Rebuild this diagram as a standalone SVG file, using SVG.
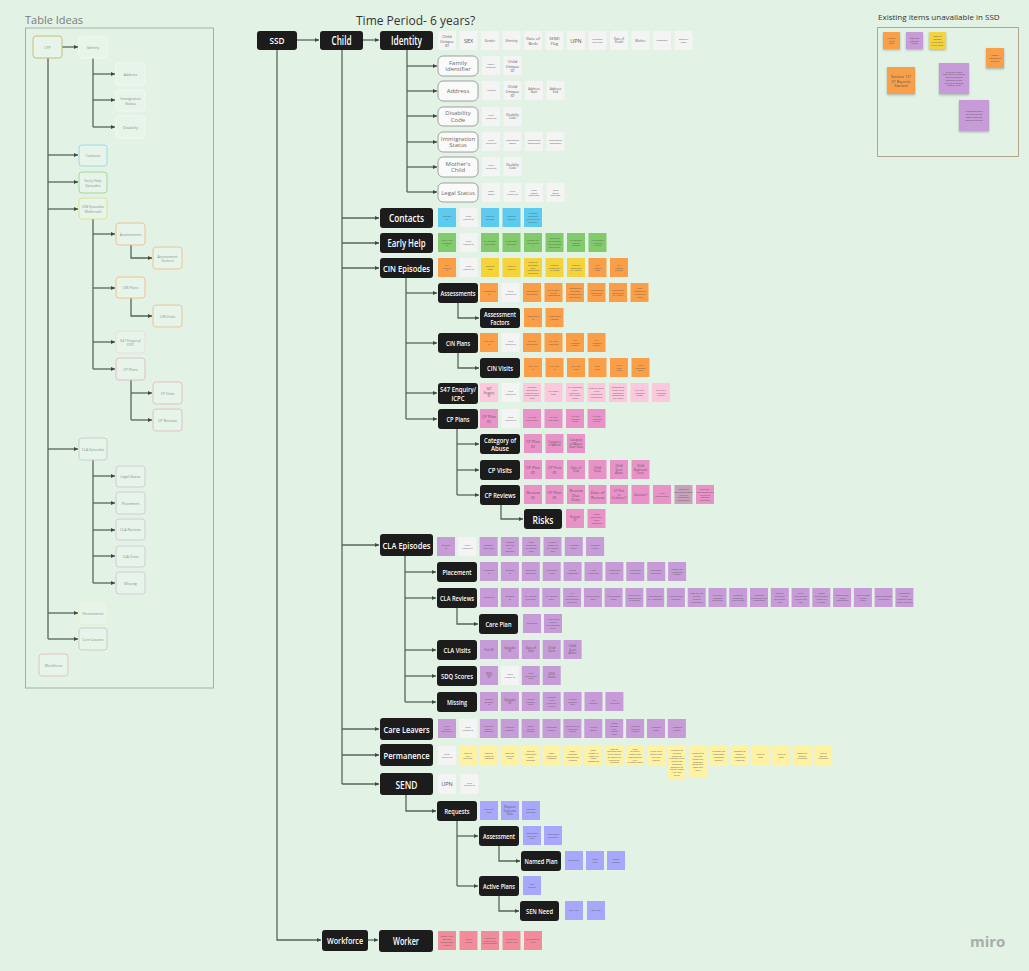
<svg xmlns="http://www.w3.org/2000/svg" width="1029" height="971" viewBox="0 0 1029 971">
<defs>
<marker id="ah" viewBox="0 0 6 6" refX="6" refY="3" markerWidth="4.5" markerHeight="4.5" markerUnits="userSpaceOnUse" orient="auto"><path d="M0,0 L6,3 L0,6 z" fill="#3e4a40"/></marker>
<filter id="sh" x="-20%" y="-20%" width="140%" height="150%"><feDropShadow dx="0" dy="1.2" stdDeviation="0.8" flood-color="#000" flood-opacity="0.25"/></filter>
</defs>
<style>
text{font-family:"Open Sans","Noto Sans",sans-serif}
.k rect{fill:#1c1c1c}
.k text{fill:#fff;font-weight:600;text-anchor:middle;dominant-baseline:central}
.sn rect{fill:#fafafa;stroke:#8c8c8c;stroke-width:0.8}
.sn text{fill:#6a6a6a;font-size:6px;text-anchor:middle;dominant-baseline:central}
.f text{fill:#5a5a5a;text-anchor:middle;dominant-baseline:central}
.a{font-size:2.3px}.b{font-size:3px}.c{font-size:4px}.d{font-size:5.5px}
.w{fill:#f3f4f3}.bl{fill:#5ccbef}.gr{fill:#82cb6c}.or{fill:#fa9f48}.ye{fill:#f5d33a}
.lp{fill:#fbc8dd}.pk{fill:#e892c8}.gp{fill:#c6a3ba}.pu{fill:#c79bd7}.ly{fill:#fff3a3}
.sb{fill:#a7a8fb}.rd{fill:#f38c9a}
.e{fill:none;stroke:#56665a;stroke-width:1.3}
.ea{fill:none;stroke:#56665a;stroke-width:1.3;marker-end:url(#ah)}
.lp-n rect{fill:#e6f4e9;stroke-width:0.9}
.lp-n text{fill:#8b938b;font-size:3.6px;text-anchor:middle;dominant-baseline:central}
</style>
<rect width="1029" height="971" fill="#e2f2e5"/>

<!-- ===== Table ideas panel ===== -->
<text x="25" y="24" font-size="11" fill="#7a7a7a">Table Ideas</text>
<rect x="25.5" y="28" width="188" height="660" fill="none" stroke="#a3b2a5" stroke-width="1"/>
<g id="ideas-connectors">
<path class="ea" d="M62,47 H78"/>
<path class="e" d="M48,58 V639"/>
<path class="ea" d="M48,155 H78"/><path class="ea" d="M48,182 H78"/><path class="ea" d="M48,209 H78"/>
<path class="ea" d="M48,449 H78"/><path class="ea" d="M48,613 H78"/><path class="ea" d="M48,639 H78"/>
<path class="e" d="M93,58 V127"/>
<path class="ea" d="M93,74 H115"/><path class="ea" d="M93,100 H115"/><path class="ea" d="M93,127 H115"/>
<path class="e" d="M93,219 V369"/>
<path class="ea" d="M93,234 H115"/><path class="ea" d="M93,288 H115"/><path class="ea" d="M93,342 H115"/><path class="ea" d="M93,369 H115"/>
<path class="ea" d="M131,245 V258 H152"/>
<path class="ea" d="M131,298 V316 H152"/>
<path class="e" d="M131,380 V420"/>
<path class="ea" d="M131,393 H152"/><path class="ea" d="M131,420 H152"/>
<path class="e" d="M93,460 V583"/>
<path class="ea" d="M93,476 H115"/><path class="ea" d="M93,503 H115"/><path class="ea" d="M93,530 H115"/><path class="ea" d="M93,556 H115"/><path class="ea" d="M93,583 H115"/>
</g>
<g id="idea-cyp" class="lp-n"><rect x="33" y="36" width="29" height="22" rx="3" stroke="#c8b577"/><text x="47.5" y="47">CYP</text></g>
<g id="idea-identity" class="lp-n"><rect x="79" y="37" width="28" height="21" rx="3" stroke="#f4f8f4"/><text x="93" y="47.5">Identity</text></g>
<g id="idea-address" class="lp-n"><rect x="116" y="63" width="29" height="22" rx="3" stroke="#f4f8f4"/><text x="130.5" y="74">Address</text></g>
<g id="idea-immigration" class="lp-n"><rect x="116" y="90" width="29" height="21" rx="3" stroke="#f4f8f4"/><text x="130.5" y="100.5"><tspan x="130.5" dy="-2.2">Immigration</tspan><tspan x="130.5" dy="4.4">Status</tspan></text></g>
<g id="idea-disability" class="lp-n"><rect x="116" y="116" width="29" height="22" rx="3" stroke="#f4f8f4"/><text x="130.5" y="127">Disability</text></g>
<g id="idea-contacts" class="lp-n"><rect x="79" y="145" width="28" height="21" rx="3" stroke="#95d6ea"/><text x="93" y="155.5">Contacts</text></g>
<g id="idea-earlyhelp" class="lp-n"><rect x="79" y="172" width="28" height="21" rx="3" stroke="#9fd58a"/><text x="93" y="182.5"><tspan x="93" dy="-2.2">Early Help</tspan><tspan x="93" dy="4.4">Episodes</tspan></text></g>
<g id="idea-cin" class="lp-n"><rect x="79" y="198" width="28" height="21" rx="3" stroke="#e3dc8a"/><text x="93" y="208.5"><tspan x="93" dy="-2.2">CIN Episodes</tspan><tspan x="93" dy="4.4">(Referrals)</tspan></text></g>
<g id="idea-assessments" class="lp-n"><rect x="116" y="223" width="29" height="22" rx="3" stroke="#efbd8a"/><text x="130.5" y="234">Assessments</text></g>
<g id="idea-assessfactors" class="lp-n"><rect x="153" y="247" width="29" height="22" rx="3" stroke="#efbd8a"/><text x="167.5" y="258"><tspan x="167.5" dy="-2.2">Assessment</tspan><tspan x="167.5" dy="4.4">Factors</tspan></text></g>
<g id="idea-cinplans" class="lp-n"><rect x="116" y="277" width="29" height="21" rx="3" stroke="#efbd8a"/><text x="130.5" y="287.5">CIN Plans</text></g>
<g id="idea-cinvisits" class="lp-n"><rect x="153" y="305" width="29" height="22" rx="3" stroke="#efbd8a"/><text x="167.5" y="316">CIN Visits</text></g>
<g id="idea-s47" class="lp-n"><rect x="116" y="331" width="29" height="22" rx="3" stroke="#efd7df"/><text x="130.5" y="342"><tspan x="130.5" dy="-2.2">S47 Enquiry/</tspan><tspan x="130.5" dy="4.4">ICPC</tspan></text></g>
<g id="idea-cpplans" class="lp-n"><rect x="116" y="358" width="29" height="22" rx="3" stroke="#e2b9c3"/><text x="130.5" y="369">CP Plans</text></g>
<g id="idea-cpvisits" class="lp-n"><rect x="153" y="382" width="29" height="22" rx="3" stroke="#e2b9c3"/><text x="167.5" y="393">CP Visits</text></g>
<g id="idea-cpreviews" class="lp-n"><rect x="153" y="409" width="29" height="22" rx="3" stroke="#e2b9c3"/><text x="167.5" y="420">CP Reviews</text></g>
<g id="idea-cla" class="lp-n"><rect x="79" y="438" width="28" height="22" rx="3" stroke="#c7c9cc"/><text x="93" y="449">CLA Episodes</text></g>
<g id="idea-legal" class="lp-n"><rect x="116" y="466" width="29" height="21" rx="3" stroke="#cfc6d6"/><text x="130.5" y="476.5">Legal Status</text></g>
<g id="idea-placement" class="lp-n"><rect x="116" y="492" width="29" height="22" rx="3" stroke="#cfc6d6"/><text x="130.5" y="503">Placement</text></g>
<g id="idea-clareviews" class="lp-n"><rect x="116" y="519" width="29" height="21" rx="3" stroke="#cfc6d6"/><text x="130.5" y="529.5">CLA Reviews</text></g>
<g id="idea-clavisits" class="lp-n"><rect x="116" y="546" width="29" height="21" rx="3" stroke="#cfc6d6"/><text x="130.5" y="556.5">CLA Visits</text></g>
<g id="idea-missing" class="lp-n"><rect x="116" y="572" width="29" height="22" rx="3" stroke="#cfc6d6"/><text x="130.5" y="583">Missing</text></g>
<g id="idea-permanence" class="lp-n"><rect x="79" y="602" width="28" height="22" rx="3" stroke="#eef0c8"/><text x="93" y="613">Permanence</text></g>
<g id="idea-careleavers" class="lp-n"><rect x="79" y="628" width="28" height="22" rx="3" stroke="#c5c9cc"/><text x="93" y="639">Care Leavers</text></g>
<g id="idea-workforce" class="lp-n"><rect x="39" y="654" width="29" height="22" rx="3" stroke="#e2bcbc"/><text x="53.5" y="665">Workforce</text></g>

<!-- ===== Title ===== -->
<text x="356" y="25" font-size="12" fill="#333">Time Period- 6 years?</text>

<!-- ===== Main tree connectors ===== -->
<g id="connectors">
<path class="ea" d="M297,40 H319"/>
<path class="ea" d="M363,40 H379"/>
<path class="ea" d="M277,50 V940 H321"/>
<path class="ea" d="M368,940 H378"/>
<path class="e" d="M342,50 V784"/>
<path class="ea" d="M342,218 H379"/><path class="ea" d="M342,243 H379"/><path class="ea" d="M342,268 H379"/>
<path class="ea" d="M342,545 H379"/><path class="ea" d="M342,729 H379"/><path class="ea" d="M342,755 H379"/><path class="ea" d="M342,784 H379"/>
<path class="e" d="M407,50 V192"/>
<path class="ea" d="M407,66 H437"/><path class="ea" d="M407,91 H437"/><path class="ea" d="M407,116 H437"/>
<path class="ea" d="M407,142 H437"/><path class="ea" d="M407,167 H437"/><path class="ea" d="M407,192 H437"/>
<path class="e" d="M406,278 V419"/>
<path class="ea" d="M406,293 H437"/><path class="ea" d="M406,343 H437"/><path class="ea" d="M406,393 H437"/><path class="ea" d="M406,419 H437"/>
<path class="ea" d="M458,303 V318 H479"/>
<path class="ea" d="M458,353 V368 H479"/>
<path class="e" d="M457,429 V495"/>
<path class="ea" d="M457,444 H479"/><path class="ea" d="M457,470 H479"/><path class="ea" d="M457,495 H479"/>
<path class="ea" d="M501,505 V519 H523"/>
<path class="e" d="M405,556 V702"/>
<path class="ea" d="M405,572 H436"/><path class="ea" d="M405,598 H436"/><path class="ea" d="M405,650 H436"/><path class="ea" d="M405,676 H436"/><path class="ea" d="M405,702 H436"/>
<path class="ea" d="M457,608 V624 H478"/>
<path class="ea" d="M406,795 V811 H436"/>
<path class="e" d="M457,821 V886"/>
<path class="ea" d="M457,836 H478"/><path class="ea" d="M457,886 H478"/>
<path class="ea" d="M499,846 V861 H520"/>
<path class="ea" d="M499,896 V911 H519"/>
</g>

<!-- ===== Main nodes ===== -->
<g id="ssd" class="k"><rect x="257" y="31" width="40" height="19" rx="3"/><text x="277" y="40.5" font-size="9.5" textLength="15" lengthAdjust="spacingAndGlyphs">SSD</text></g>
<g id="child" class="k"><rect x="320" y="31" width="43" height="19" rx="3"/><text x="341.5" y="40.5" font-size="12" textLength="20" lengthAdjust="spacingAndGlyphs">Child</text></g>
<g id="identity" class="k"><rect x="380" y="31" width="53" height="19" rx="3"/><text x="406.5" y="40.5" font-size="12" textLength="31" lengthAdjust="spacingAndGlyphs">Identity</text></g>

<g id="family-identifier" class="sn"><rect x="438" y="56" width="40" height="20" rx="5"/><text x="458" y="66"><tspan x="458" dy="-3.3">Family</tspan><tspan x="458" dy="6.6">Identifier</tspan></text></g>
<g id="address" class="sn"><rect x="438" y="81" width="40" height="20" rx="5"/><text x="458" y="91">Address</text></g>
<g id="disability-code" class="sn"><rect x="438" y="107" width="40" height="19" rx="5"/><text x="458" y="116.5"><tspan x="458" dy="-3.3">Disability</tspan><tspan x="458" dy="6.6">Code</tspan></text></g>
<g id="immigration-status" class="sn"><rect x="438" y="132" width="40" height="20" rx="5"/><text x="458" y="142"><tspan x="458" dy="-3.3">Immigration</tspan><tspan x="458" dy="6.6">Status</tspan></text></g>
<g id="mothers-child" class="sn"><rect x="438" y="157" width="40" height="20" rx="5"/><text x="458" y="167"><tspan x="458" dy="-3.3">Mother's</tspan><tspan x="458" dy="6.6">Child</tspan></text></g>
<g id="legal-status" class="sn"><rect x="438" y="183" width="40" height="19" rx="5"/><text x="458" y="192.5">Legal Status</text></g>

<g id="contacts" class="k"><rect x="380" y="208" width="53" height="20" rx="3"/><text x="406.5" y="218" font-size="10" textLength="35" lengthAdjust="spacingAndGlyphs">Contacts</text></g>
<g id="early-help" class="k"><rect x="380" y="233" width="53" height="20" rx="3"/><text x="406.5" y="243" font-size="10" textLength="38" lengthAdjust="spacingAndGlyphs">Early Help</text></g>
<g id="cin-episodes" class="k"><rect x="380" y="258" width="53" height="20" rx="3"/><text x="406.5" y="268" font-size="9" textLength="47" lengthAdjust="spacingAndGlyphs">CIN Episodes</text></g>
<g id="assessments" class="k"><rect x="438" y="283" width="40" height="20" rx="3"/><text x="458" y="293" font-size="7" textLength="35" lengthAdjust="spacingAndGlyphs">Assessments</text></g>
<g id="assessment-factors" class="k"><rect x="480" y="308" width="40" height="20" rx="3"/><text x="500" y="314" font-size="7.5" textLength="32" lengthAdjust="spacingAndGlyphs">Assessment</text><text x="500" y="322" font-size="7.5" textLength="19" lengthAdjust="spacingAndGlyphs">Factors</text></g>
<g id="cin-plans" class="k"><rect x="438" y="333" width="40" height="20" rx="3"/><text x="458" y="343" font-size="7.5" textLength="24" lengthAdjust="spacingAndGlyphs">CIN Plans</text></g>
<g id="cin-visits" class="k"><rect x="480" y="358" width="40" height="20" rx="3"/><text x="500" y="368" font-size="7.5" textLength="26" lengthAdjust="spacingAndGlyphs">CIN Visits</text></g>
<g id="s47" class="k"><rect x="438" y="383" width="40" height="21" rx="3"/><text x="458" y="389.5" font-size="7" textLength="36" lengthAdjust="spacingAndGlyphs">S47 Enquiry/</text><text x="458" y="397.5" font-size="7.5" textLength="13" lengthAdjust="spacingAndGlyphs">ICPC</text></g>
<g id="cp-plans" class="k"><rect x="438" y="409" width="40" height="20" rx="3"/><text x="458" y="419" font-size="7.5" textLength="23" lengthAdjust="spacingAndGlyphs">CP Plans</text></g>
<g id="category-of-abuse" class="k"><rect x="480" y="434" width="40" height="20" rx="3"/><text x="500" y="440" font-size="7.5" textLength="32" lengthAdjust="spacingAndGlyphs">Category of</text><text x="500" y="448" font-size="7.5" textLength="18" lengthAdjust="spacingAndGlyphs">Abuse</text></g>
<g id="cp-visits" class="k"><rect x="480" y="460" width="40" height="20" rx="3"/><text x="500" y="470" font-size="7.5" textLength="24" lengthAdjust="spacingAndGlyphs">CP Visits</text></g>
<g id="cp-reviews" class="k"><rect x="480" y="485" width="40" height="20" rx="3"/><text x="500" y="495" font-size="7.5" textLength="31" lengthAdjust="spacingAndGlyphs">CP Reviews</text></g>
<g id="risks" class="k"><rect x="524" y="509" width="38" height="20" rx="3"/><text x="543" y="519" font-size="11" textLength="21" lengthAdjust="spacingAndGlyphs">Risks</text></g>
<g id="cla-episodes" class="k"><rect x="380" y="534" width="53" height="22" rx="3"/><text x="406.5" y="545" font-size="9" textLength="48" lengthAdjust="spacingAndGlyphs">CLA Episodes</text></g>
<g id="placement" class="k"><rect x="437" y="562" width="40" height="20" rx="3"/><text x="457" y="572" font-size="7.5" textLength="29" lengthAdjust="spacingAndGlyphs">Placement</text></g>
<g id="cla-reviews" class="k"><rect x="437" y="588" width="40" height="20" rx="3"/><text x="457" y="598" font-size="7" textLength="34" lengthAdjust="spacingAndGlyphs">CLA Reviews</text></g>
<g id="care-plan" class="k"><rect x="479" y="614" width="39" height="20" rx="3"/><text x="498.5" y="624" font-size="7.5" textLength="26" lengthAdjust="spacingAndGlyphs">Care Plan</text></g>
<g id="cla-visits" class="k"><rect x="437" y="640" width="40" height="20" rx="3"/><text x="457" y="650" font-size="7.5" textLength="27" lengthAdjust="spacingAndGlyphs">CLA Visits</text></g>
<g id="sdq-scores" class="k"><rect x="437" y="666" width="40" height="20" rx="3"/><text x="457" y="676" font-size="7.5" textLength="32" lengthAdjust="spacingAndGlyphs">SDQ Scores</text></g>
<g id="missing" class="k"><rect x="437" y="692" width="40" height="20" rx="3"/><text x="457" y="702" font-size="7.5" textLength="20" lengthAdjust="spacingAndGlyphs">Missing</text></g>
<g id="care-leavers" class="k"><rect x="380" y="718" width="53" height="22" rx="3"/><text x="406.5" y="729" font-size="9" textLength="46" lengthAdjust="spacingAndGlyphs">Care Leavers</text></g>
<g id="permanence" class="k"><rect x="380" y="744" width="53" height="22" rx="3"/><text x="406.5" y="755" font-size="9" textLength="46" lengthAdjust="spacingAndGlyphs">Permanence</text></g>
<g id="send" class="k"><rect x="380" y="773" width="53" height="22" rx="3"/><text x="406.5" y="784" font-size="11" textLength="22" lengthAdjust="spacingAndGlyphs">SEND</text></g>
<g id="requests" class="k"><rect x="437" y="801" width="40" height="20" rx="3"/><text x="457" y="811" font-size="7.5" textLength="25" lengthAdjust="spacingAndGlyphs">Requests</text></g>
<g id="send-assessment" class="k"><rect x="479" y="826" width="40" height="20" rx="3"/><text x="499" y="836" font-size="7.5" textLength="32" lengthAdjust="spacingAndGlyphs">Assessment</text></g>
<g id="named-plan" class="k"><rect x="521" y="851" width="40" height="20" rx="3"/><text x="541" y="861" font-size="7.5" textLength="33" lengthAdjust="spacingAndGlyphs">Named Plan</text></g>
<g id="active-plans" class="k"><rect x="479" y="876" width="40" height="20" rx="3"/><text x="499" y="886" font-size="7.5" textLength="32" lengthAdjust="spacingAndGlyphs">Active Plans</text></g>
<g id="sen-need" class="k"><rect x="520" y="901" width="39" height="20" rx="3"/><text x="539.5" y="911" font-size="7.5" textLength="27" lengthAdjust="spacingAndGlyphs">SEN Need</text></g>
<g id="workforce" class="k"><rect x="322" y="930" width="46" height="21" rx="3"/><text x="345" y="940.5" font-size="8" textLength="36" lengthAdjust="spacingAndGlyphs">Workforce</text></g>
<g id="worker" class="k"><rect x="379" y="930" width="54" height="22" rx="3"/><text x="406" y="941" font-size="10" textLength="26" lengthAdjust="spacingAndGlyphs">Worker</text></g>

<!-- ===== Field notes ===== -->
<g id="fields-identity" class="f">
<g transform="translate(438,31)"><rect class="w" width="18" height="19"/><text class="c" x="9" y="9.5"><tspan x="9" dy="-4.6">Child</tspan><tspan x="9" dy="4.6">Unique</tspan><tspan x="9" dy="4.6">ID</tspan></text></g>
<g transform="translate(459.5,31)"><rect class="w" width="18" height="19"/><text class="d" x="9" y="9.5">SEX</text></g>
<g transform="translate(481,31)"><rect class="w" width="18" height="19"/><text class="b" x="9" y="9.5">Gender</text></g>
<g transform="translate(502.5,31)"><rect class="w" width="18" height="19"/><text class="b" x="9" y="9.5">Ethnicity</text></g>
<g transform="translate(524,31)"><rect class="w" width="18" height="19"/><text class="c" x="9" y="9.5"><tspan x="9" dy="-2.3">Date of</tspan><tspan x="9" dy="4.6">Birth</tspan></text></g>
<g transform="translate(545.5,31)"><rect class="w" width="18" height="19"/><text class="c" x="9" y="9.5"><tspan x="9" dy="-2.3">SEND</tspan><tspan x="9" dy="4.6">Flag</tspan></text></g>
<g transform="translate(567,31)"><rect class="w" width="18" height="19"/><text class="d" x="9" y="9.5">UPN</text></g>
<g transform="translate(588.5,31)"><rect class="w" width="18" height="19"/><text class="a" x="9" y="9.5"><tspan x="9" dy="-1.35">Expected</tspan><tspan x="9" dy="2.7">birth date</tspan></text></g>
<g transform="translate(610,31)"><rect class="w" width="18" height="19"/><text class="b" x="9" y="9.5"><tspan x="9" dy="-1.75">Date of</tspan><tspan x="9" dy="3.5">Death</tspan></text></g>
<g transform="translate(631.5,31)"><rect class="w" width="18" height="19"/><text class="b" x="9" y="9.5">Mother</text></g>
<g transform="translate(653,31)"><rect class="w" width="18" height="19"/><text class="a" x="9" y="9.5">Nationality</text></g>
<g transform="translate(674.5,31)"><rect class="w" width="18" height="19"/><text class="a" x="9" y="9.5"><tspan x="9" dy="-1.35">Disability</tspan><tspan x="9" dy="2.7">Code</tspan></text></g>
</g>
<g id="fields-identity-subtables" class="f">
<g transform="translate(482,56)"><rect class="w" width="18" height="19"/><text class="a" x="9" y="9.5"><tspan x="9" dy="-1.35">Family</tspan><tspan x="9" dy="2.7">Identifier</tspan></text></g>
<g transform="translate(503.5,56)"><rect class="w" width="18" height="19"/><text class="c" x="9" y="9.5"><tspan x="9" dy="-4.6">Child</tspan><tspan x="9" dy="4.6">Unique</tspan><tspan x="9" dy="4.6">ID</tspan></text></g>
<g transform="translate(482,81)"><rect class="w" width="18" height="19"/><text class="a" x="9" y="9.5">Address</text></g>
<g transform="translate(503.5,81)"><rect class="w" width="18" height="19"/><text class="c" x="9" y="9.5"><tspan x="9" dy="-4.6">Child</tspan><tspan x="9" dy="4.6">Unique</tspan><tspan x="9" dy="4.6">ID</tspan></text></g>
<g transform="translate(525,81)"><rect class="w" width="18" height="19"/><text class="b" x="9" y="9.5"><tspan x="9" dy="-1.75">Address</tspan><tspan x="9" dy="3.5">Start</tspan></text></g>
<g transform="translate(546.5,81)"><rect class="w" width="18" height="19"/><text class="b" x="9" y="9.5"><tspan x="9" dy="-1.75">Address</tspan><tspan x="9" dy="3.5">End</tspan></text></g>
<g transform="translate(482,107)"><rect class="w" width="18" height="19"/><text class="a" x="9" y="9.5"><tspan x="9" dy="-1.35">Child</tspan><tspan x="9" dy="2.7">Unique ID</tspan></text></g>
<g transform="translate(503.5,107)"><rect class="w" width="18" height="19"/><text class="b" x="9" y="9.5"><tspan x="9" dy="-1.75">Disability</tspan><tspan x="9" dy="3.5">Code</tspan></text></g>
<g transform="translate(482,132)"><rect class="w" width="18" height="19"/><text class="a" x="9" y="9.5"><tspan x="9" dy="-1.35">Child</tspan><tspan x="9" dy="2.7">Unique ID</tspan></text></g>
<g transform="translate(503.5,132)"><rect class="w" width="18" height="19"/><text class="a" x="9" y="9.5"><tspan x="9" dy="-1.35">Immigration</tspan><tspan x="9" dy="2.7">Status</tspan></text></g>
<g transform="translate(525,132)"><rect class="w" width="18" height="19"/><text class="a" x="9" y="9.5"><tspan x="9" dy="-1.35">Immigration</tspan><tspan x="9" dy="2.7">Status Start</tspan></text></g>
<g transform="translate(546.5,132)"><rect class="w" width="18" height="19"/><text class="a" x="9" y="9.5"><tspan x="9" dy="-1.35">Immigration</tspan><tspan x="9" dy="2.7">Status End</tspan></text></g>
<g transform="translate(482,157)"><rect class="w" width="18" height="19"/><text class="a" x="9" y="9.5"><tspan x="9" dy="-1.35">Child</tspan><tspan x="9" dy="2.7">Unique ID</tspan></text></g>
<g transform="translate(503.5,157)"><rect class="w" width="18" height="19"/><text class="b" x="9" y="9.5"><tspan x="9" dy="-1.75">Disability</tspan><tspan x="9" dy="3.5">Code</tspan></text></g>
<g transform="translate(482,183)"><rect class="w" width="18" height="19"/><text class="a" x="9" y="9.5"><tspan x="9" dy="-1.35">Legal</tspan><tspan x="9" dy="2.7">Status</tspan></text></g>
<g transform="translate(503.5,183)"><rect class="w" width="18" height="19"/><text class="a" x="9" y="9.5"><tspan x="9" dy="-1.35">Child</tspan><tspan x="9" dy="2.7">Unique ID</tspan></text></g>
<g transform="translate(525,183)"><rect class="w" width="18" height="19"/><text class="a" x="9" y="9.5"><tspan x="9" dy="-2.7">Legal</tspan><tspan x="9" dy="2.7">Status</tspan><tspan x="9" dy="2.7">Start Date</tspan></text></g>
<g transform="translate(546.5,183)"><rect class="w" width="18" height="19"/><text class="a" x="9" y="9.5"><tspan x="9" dy="-2.7">Legal</tspan><tspan x="9" dy="2.7">Status</tspan><tspan x="9" dy="2.7">End Date</tspan></text></g>
</g>
<g id="fields-contacts" class="f">
<g transform="translate(438,208)"><rect class="bl" width="18" height="19"/><text class="a" x="9" y="9.5"><tspan x="9" dy="-1.35">Contact</tspan><tspan x="9" dy="2.7">ID</tspan></text></g>
<g transform="translate(459.5,208)"><rect class="w" width="18" height="19"/><text class="a" x="9" y="9.5"><tspan x="9" dy="-1.35">Child</tspan><tspan x="9" dy="2.7">Unique ID</tspan></text></g>
<g transform="translate(481,208)"><rect class="bl" width="18" height="19"/><text class="a" x="9" y="9.5"><tspan x="9" dy="-1.35">Date of</tspan><tspan x="9" dy="2.7">Contact</tspan></text></g>
<g transform="translate(502.5,208)"><rect class="bl" width="18" height="19"/><text class="a" x="9" y="9.5"><tspan x="9" dy="-1.35">Contact</tspan><tspan x="9" dy="2.7">Source</tspan></text></g>
<g transform="translate(524,208)"><rect class="bl" width="18" height="19"/><text class="a" x="9" y="9.5"><tspan x="9" dy="-4.05">Contact</tspan><tspan x="9" dy="2.7">Outcome</tspan><tspan x="9" dy="2.7">(Referral/No</tspan><tspan x="9" dy="2.7">Referral)</tspan></text></g>
</g>
<g id="fields-early-help" class="f">
<g transform="translate(438,233)"><rect class="gr" width="18" height="19"/><text class="a" x="9" y="9.5"><tspan x="9" dy="-2.7">Early Help</tspan><tspan x="9" dy="2.7">Episode</tspan><tspan x="9" dy="2.7">ID</tspan></text></g>
<g transform="translate(459.5,233)"><rect class="w" width="18" height="19"/><text class="a" x="9" y="9.5"><tspan x="9" dy="-1.35">Child</tspan><tspan x="9" dy="2.7">Unique ID</tspan></text></g>
<g transform="translate(481,233)"><rect class="gr" width="18" height="19"/><text class="a" x="9" y="9.5"><tspan x="9" dy="-1.35">EH Episode</tspan><tspan x="9" dy="2.7">Start Date</tspan></text></g>
<g transform="translate(502.5,233)"><rect class="gr" width="18" height="19"/><text class="a" x="9" y="9.5"><tspan x="9" dy="-1.35">EH Episode</tspan><tspan x="9" dy="2.7">End Date</tspan></text></g>
<g transform="translate(524,233)"><rect class="gr" width="18" height="19"/><text class="a" x="9" y="9.5"><tspan x="9" dy="-2.7">Reason for</tspan><tspan x="9" dy="2.7">Involvemen</tspan><tspan x="9" dy="2.7">t</tspan></text></g>
<g transform="translate(545.5,233)"><rect class="gr" width="18" height="19"/><text class="a" x="9" y="9.5"><tspan x="9" dy="-4.05">Attributes</tspan><tspan x="9" dy="2.7">(to Reasons)</tspan><tspan x="9" dy="2.7">with Episode</tspan><tspan x="9" dy="2.7">Start Date</tspan></text></g>
<g transform="translate(567,233)"><rect class="gr" width="18" height="19"/><text class="a" x="9" y="9.5"><tspan x="9" dy="-2.7">EH Episode</tspan><tspan x="9" dy="2.7">Closure</tspan><tspan x="9" dy="2.7">Reason</tspan></text></g>
<g transform="translate(588.5,233)"><rect class="gr" width="18" height="19"/><text class="a" x="9" y="9.5"><tspan x="9" dy="-2.7">EH Episode</tspan><tspan x="9" dy="2.7">Allocated</tspan><tspan x="9" dy="2.7">Worker</tspan></text></g>
</g>
<g id="fields-cin-episodes" class="f">
<g transform="translate(438,258)"><rect class="or" width="18" height="19"/><text class="a" x="9" y="9.5"><tspan x="9" dy="-2.7">CIN</tspan><tspan x="9" dy="2.7">Referral</tspan><tspan x="9" dy="2.7">ID</tspan></text></g>
<g transform="translate(459.5,258)"><rect class="w" width="18" height="19"/><text class="a" x="9" y="9.5"><tspan x="9" dy="-1.35">Child</tspan><tspan x="9" dy="2.7">Unique ID</tspan></text></g>
<g transform="translate(481,258)"><rect class="ye" width="18" height="19"/><text class="a" x="9" y="9.5"><tspan x="9" dy="-1.35">Referral</tspan><tspan x="9" dy="2.7">Date</tspan></text></g>
<g transform="translate(502.5,258)"><rect class="ye" width="18" height="19"/><text class="a" x="9" y="9.5"><tspan x="9" dy="-1.35">Referral</tspan><tspan x="9" dy="2.7">Source</tspan></text></g>
<g transform="translate(524,258)"><rect class="ye" width="18" height="19"/><text class="a" x="9" y="9.5"><tspan x="9" dy="-5.4">Referral</tspan><tspan x="9" dy="2.7">Outcome</tspan><tspan x="9" dy="2.7">with</tspan><tspan x="9" dy="2.7">Assessment</tspan><tspan x="9" dy="2.7">Outcome</tspan></text></g>
<g transform="translate(545.5,258)"><rect class="ye" width="18" height="19"/><text class="a" x="9" y="9.5"><tspan x="9" dy="-2.7">Referral</tspan><tspan x="9" dy="2.7">Completed</tspan><tspan x="9" dy="2.7">by Team</tspan></text></g>
<g transform="translate(567,258)"><rect class="ye" width="18" height="19"/><text class="a" x="9" y="9.5"><tspan x="9" dy="-2.7">Referral</tspan><tspan x="9" dy="2.7">Completed</tspan><tspan x="9" dy="2.7">by Worker</tspan></text></g>
<g transform="translate(588.5,258)"><rect class="or" width="18" height="19"/><text class="a" x="9" y="9.5"><tspan x="9" dy="-2.7">CIN</tspan><tspan x="9" dy="2.7">Closure</tspan><tspan x="9" dy="2.7">Date</tspan></text></g>
<g transform="translate(610,258)"><rect class="or" width="18" height="19"/><text class="a" x="9" y="9.5"><tspan x="9" dy="-2.7">CIN</tspan><tspan x="9" dy="2.7">Closure</tspan><tspan x="9" dy="2.7">Reason</tspan></text></g>
</g>
<g id="fields-assessments" class="f">
<g transform="translate(480,283)"><rect class="or" width="18" height="19"/><text class="a" x="9" y="9.5"><tspan x="9" dy="-1.35">Assessment</tspan><tspan x="9" dy="2.7">ID</tspan></text></g>
<g transform="translate(501.5,283)"><rect class="w" width="18" height="19"/><text class="a" x="9" y="9.5"><tspan x="9" dy="-1.35">Child</tspan><tspan x="9" dy="2.7">Unique ID</tspan></text></g>
<g transform="translate(523,283)"><rect class="or" width="18" height="19"/><text class="a" x="9" y="9.5"><tspan x="9" dy="-1.35">Assessment</tspan><tspan x="9" dy="2.7">Start Date</tspan></text></g>
<g transform="translate(544.5,283)"><rect class="or" width="18" height="19"/><text class="a" x="9" y="9.5"><tspan x="9" dy="-2.7">Child Seen</tspan><tspan x="9" dy="2.7">during</tspan><tspan x="9" dy="2.7">Assessment</tspan></text></g>
<g transform="translate(566,283)"><rect class="or" width="18" height="19"/><text class="a" x="9" y="9.5"><tspan x="9" dy="-4.05">Assessment</tspan><tspan x="9" dy="2.7">Outcome</tspan><tspan x="9" dy="2.7">(Assessment</tspan><tspan x="9" dy="2.7">Start Date)</tspan></text></g>
<g transform="translate(587.5,283)"><rect class="or" width="18" height="19"/><text class="a" x="9" y="9.5"><tspan x="9" dy="-2.7">Assessment</tspan><tspan x="9" dy="2.7">Completed</tspan><tspan x="9" dy="2.7">by Team</tspan></text></g>
<g transform="translate(609,283)"><rect class="or" width="18" height="19"/><text class="a" x="9" y="9.5"><tspan x="9" dy="-2.7">Assessment</tspan><tspan x="9" dy="2.7">Completed</tspan><tspan x="9" dy="2.7">by Worker</tspan></text></g>
<g transform="translate(630.5,283)"><rect class="or" width="18" height="19"/><text class="a" x="9" y="9.5"><tspan x="9" dy="-4.05">Date</tspan><tspan x="9" dy="2.7">Assessment</tspan><tspan x="9" dy="2.7">Authorised</tspan><tspan x="9" dy="2.7">Date</tspan></text></g>
<g transform="translate(524,308)"><rect class="or" width="18" height="19"/><text class="a" x="9" y="9.5"><tspan x="9" dy="-1.35">Assessment</tspan><tspan x="9" dy="2.7">ID</tspan></text></g>
<g transform="translate(545.5,308)"><rect class="or" width="18" height="19"/><text class="a" x="9" y="9.5"><tspan x="9" dy="-1.35">Assessment</tspan><tspan x="9" dy="2.7">Factors</tspan></text></g>
</g>
<g id="fields-cin-plans" class="f">
<g transform="translate(480,333)"><rect class="or" width="18" height="19"/><text class="a" x="9" y="9.5"><tspan x="9" dy="-1.35">CIN Plan</tspan><tspan x="9" dy="2.7">ID</tspan></text></g>
<g transform="translate(501.5,333)"><rect class="w" width="18" height="19"/><text class="a" x="9" y="9.5"><tspan x="9" dy="-1.35">Child</tspan><tspan x="9" dy="2.7">Unique ID</tspan></text></g>
<g transform="translate(523,333)"><rect class="or" width="18" height="19"/><text class="a" x="9" y="9.5"><tspan x="9" dy="-1.35">CIN Plan</tspan><tspan x="9" dy="2.7">Start Date</tspan></text></g>
<g transform="translate(544.5,333)"><rect class="or" width="18" height="19"/><text class="a" x="9" y="9.5"><tspan x="9" dy="-1.35">CIN Plan</tspan><tspan x="9" dy="2.7">End Date</tspan></text></g>
<g transform="translate(566,333)"><rect class="or" width="18" height="19"/><text class="a" x="9" y="9.5"><tspan x="9" dy="-2.7">CIN</tspan><tspan x="9" dy="2.7">Allocated</tspan><tspan x="9" dy="2.7">Team</tspan></text></g>
<g transform="translate(587.5,333)"><rect class="or" width="18" height="19"/><text class="a" x="9" y="9.5"><tspan x="9" dy="-2.7">CIN</tspan><tspan x="9" dy="2.7">Allocated</tspan><tspan x="9" dy="2.7">Worker</tspan></text></g>
<g transform="translate(524,358)"><rect class="or" width="18" height="19"/><text class="a" x="9" y="9.5"><tspan x="9" dy="-1.35">CIN Visit</tspan><tspan x="9" dy="2.7">ID</tspan></text></g>
<g transform="translate(545.5,358)"><rect class="or" width="18" height="19"/><text class="a" x="9" y="9.5"><tspan x="9" dy="-1.35">CIN Plan</tspan><tspan x="9" dy="2.7">ID</tspan></text></g>
<g transform="translate(567,358)"><rect class="or" width="18" height="19"/><text class="a" x="9" y="9.5"><tspan x="9" dy="-1.35">CIN Visit</tspan><tspan x="9" dy="2.7">Date</tspan></text></g>
<g transform="translate(588.5,358)"><rect class="or" width="18" height="19"/><text class="a" x="9" y="9.5"><tspan x="9" dy="-1.35">Child</tspan><tspan x="9" dy="2.7">Seen</tspan></text></g>
<g transform="translate(610,358)"><rect class="or" width="18" height="19"/><text class="a" x="9" y="9.5"><tspan x="9" dy="-2.7">Child</tspan><tspan x="9" dy="2.7">Seen</tspan><tspan x="9" dy="2.7">Alone</tspan></text></g>
<g transform="translate(631.5,358)"><rect class="or" width="18" height="19"/><text class="a" x="9" y="9.5"><tspan x="9" dy="-2.7">Child</tspan><tspan x="9" dy="2.7">Bedroom</tspan><tspan x="9" dy="2.7">Seen</tspan></text></g>
</g>
<g id="fields-s47" class="f">
<g transform="translate(480,383)"><rect class="lp" width="18" height="19"/><text class="b" x="9" y="9.5"><tspan x="9" dy="-3.5">S47</tspan><tspan x="9" dy="3.5">Enquiry</tspan><tspan x="9" dy="3.5">ID</tspan></text></g>
<g transform="translate(501.5,383)"><rect class="w" width="18" height="19"/><text class="a" x="9" y="9.5"><tspan x="9" dy="-1.35">Child</tspan><tspan x="9" dy="2.7">Unique ID</tspan></text></g>
<g transform="translate(523,383)"><rect class="lp" width="18" height="19"/><text class="a" x="9" y="9.5"><tspan x="9" dy="-5.4">Strategy</tspan><tspan x="9" dy="2.7">Discussion</tspan><tspan x="9" dy="2.7">Initiating S47</tspan><tspan x="9" dy="2.7">Enquiry Start</tspan><tspan x="9" dy="2.7">Date</tspan></text></g>
<g transform="translate(544.5,383)"><rect class="lp" width="18" height="19"/><text class="a" x="9" y="9.5"><tspan x="9" dy="-1.35">S47 Start</tspan><tspan x="9" dy="2.7">Date</tspan></text></g>
<g transform="translate(566,383)"><rect class="lp" width="18" height="19"/><text class="a" x="9" y="9.5"><tspan x="9" dy="-5.4">S47 Outcome</tspan><tspan x="9" dy="2.7">(ICPC</tspan><tspan x="9" dy="2.7">Required /</tspan><tspan x="9" dy="2.7">No Further</tspan><tspan x="9" dy="2.7">Action)</tspan></text></g>
<g transform="translate(587.5,383)"><rect class="lp" width="18" height="19"/><text class="a" x="9" y="9.5"><tspan x="9" dy="-4.05">Date of Initial</tspan><tspan x="9" dy="2.7">Child</tspan><tspan x="9" dy="2.7">Protection</tspan><tspan x="9" dy="2.7">Conference</tspan></text></g>
<g transform="translate(609,383)"><rect class="lp" width="18" height="19"/><text class="a" x="9" y="9.5"><tspan x="9" dy="-5.4">Outcome of</tspan><tspan x="9" dy="2.7">Initial Child</tspan><tspan x="9" dy="2.7">Protection</tspan><tspan x="9" dy="2.7">Conference</tspan><tspan x="9" dy="2.7">(CP Plan?)</tspan></text></g>
<g transform="translate(630.5,383)"><rect class="lp" width="18" height="19"/><text class="a" x="9" y="9.5"><tspan x="9" dy="-2.7">S47 ICPC</tspan><tspan x="9" dy="2.7">Allocated</tspan><tspan x="9" dy="2.7">Team</tspan></text></g>
<g transform="translate(652,383)"><rect class="lp" width="18" height="19"/><text class="a" x="9" y="9.5"><tspan x="9" dy="-2.7">S47 ICPC</tspan><tspan x="9" dy="2.7">Allocated</tspan><tspan x="9" dy="2.7">Worker</tspan></text></g>
</g>
<g id="fields-cp-plans" class="f">
<g transform="translate(480,409)"><rect class="pk" width="18" height="19"/><text class="c" x="9" y="9.5"><tspan x="9" dy="-2.3">CP Plan</tspan><tspan x="9" dy="4.6">ID</tspan></text></g>
<g transform="translate(501.5,409)"><rect class="w" width="18" height="19"/><text class="a" x="9" y="9.5"><tspan x="9" dy="-1.35">Child</tspan><tspan x="9" dy="2.7">Unique ID</tspan></text></g>
<g transform="translate(523,409)"><rect class="pk" width="18" height="19"/><text class="a" x="9" y="9.5"><tspan x="9" dy="-1.35">CP Plan</tspan><tspan x="9" dy="2.7">Start Date</tspan></text></g>
<g transform="translate(544.5,409)"><rect class="pk" width="18" height="19"/><text class="a" x="9" y="9.5"><tspan x="9" dy="-1.35">CP Plan</tspan><tspan x="9" dy="2.7">End Date</tspan></text></g>
<g transform="translate(566,409)"><rect class="pk" width="18" height="19"/><text class="a" x="9" y="9.5"><tspan x="9" dy="-2.7">CP Plan</tspan><tspan x="9" dy="2.7">Allocated</tspan><tspan x="9" dy="2.7">Team</tspan></text></g>
<g transform="translate(587.5,409)"><rect class="pk" width="18" height="19"/><text class="a" x="9" y="9.5"><tspan x="9" dy="-2.7">CP Plan</tspan><tspan x="9" dy="2.7">Allocated</tspan><tspan x="9" dy="2.7">Worker</tspan></text></g>
<g transform="translate(524,434)"><rect class="pk" width="18" height="19"/><text class="c" x="9" y="9.5"><tspan x="9" dy="-2.3">CP Plan</tspan><tspan x="9" dy="4.6">ID</tspan></text></g>
<g transform="translate(545.5,434)"><rect class="pk" width="18" height="19"/><text class="b" x="9" y="9.5"><tspan x="9" dy="-1.75">Category</tspan><tspan x="9" dy="3.5">of Abuse</tspan></text></g>
<g transform="translate(567,434)"><rect class="pk" width="18" height="19"/><text class="b" x="9" y="9.5"><tspan x="9" dy="-3.5">Category</tspan><tspan x="9" dy="3.5">of Abuse</tspan><tspan x="9" dy="3.5">Start Date</tspan></text></g>
<g transform="translate(524,460)"><rect class="pk" width="18" height="19"/><text class="c" x="9" y="9.5"><tspan x="9" dy="-2.3">CP Plan</tspan><tspan x="9" dy="4.6">ID</tspan></text></g>
<g transform="translate(545.5,460)"><rect class="pk" width="18" height="19"/><text class="c" x="9" y="9.5"><tspan x="9" dy="-2.3">CP Visit</tspan><tspan x="9" dy="4.6">ID</tspan></text></g>
<g transform="translate(567,460)"><rect class="pk" width="18" height="19"/><text class="b" x="9" y="9.5"><tspan x="9" dy="-1.75">Date of</tspan><tspan x="9" dy="3.5">Visit</tspan></text></g>
<g transform="translate(588.5,460)"><rect class="pk" width="18" height="19"/><text class="b" x="9" y="9.5"><tspan x="9" dy="-1.75">Child</tspan><tspan x="9" dy="3.5">Seen</tspan></text></g>
<g transform="translate(610,460)"><rect class="pk" width="18" height="19"/><text class="b" x="9" y="9.5"><tspan x="9" dy="-3.5">Child</tspan><tspan x="9" dy="3.5">Seen</tspan><tspan x="9" dy="3.5">Alone</tspan></text></g>
<g transform="translate(631.5,460)"><rect class="pk" width="18" height="19"/><text class="b" x="9" y="9.5"><tspan x="9" dy="-3.5">Child</tspan><tspan x="9" dy="3.5">Bedroom</tspan><tspan x="9" dy="3.5">Seen</tspan></text></g>
<g transform="translate(524,485)"><rect class="pk" width="18" height="19"/><text class="c" x="9" y="9.5"><tspan x="9" dy="-2.3">Review</tspan><tspan x="9" dy="4.6">ID</tspan></text></g>
<g transform="translate(545.5,485)"><rect class="pk" width="18" height="19"/><text class="c" x="9" y="9.5"><tspan x="9" dy="-2.3">CP Plan</tspan><tspan x="9" dy="4.6">ID</tspan></text></g>
<g transform="translate(567,485)"><rect class="pk" width="18" height="19"/><text class="c" x="9" y="9.5"><tspan x="9" dy="-4.6">Review</tspan><tspan x="9" dy="4.6">Due</tspan><tspan x="9" dy="4.6">Date</tspan></text></g>
<g transform="translate(588.5,485)"><rect class="pk" width="18" height="19"/><text class="c" x="9" y="9.5"><tspan x="9" dy="-2.3">Date of</tspan><tspan x="9" dy="4.6">Review</tspan></text></g>
<g transform="translate(610,485)"><rect class="pk" width="18" height="19"/><text class="b" x="9" y="9.5"><tspan x="9" dy="-3.5">CP Plan</tspan><tspan x="9" dy="3.5">to</tspan><tspan x="9" dy="3.5">Continue?</tspan></text></g>
<g transform="translate(631.5,485)"><rect class="pk" width="18" height="19"/><text class="b" x="9" y="9.5">Quorate?</text></g>
<g transform="translate(653,485)"><rect class="pk" width="18" height="19"/><text class="a" x="9" y="9.5"><tspan x="9" dy="-1.35">Child</tspan><tspan x="9" dy="2.7">Participation</tspan></text></g>
<g transform="translate(674.5,485)"><rect class="gp" width="18" height="19"/><text class="a" x="9" y="9.5"><tspan x="9" dy="-5.4">Details of</tspan><tspan x="9" dy="2.7">Recommendation</tspan><tspan x="9" dy="2.7">of Child</tspan><tspan x="9" dy="2.7">Protection</tspan><tspan x="9" dy="2.7">Conference</tspan></text></g>
<g transform="translate(696,485)"><rect class="pk" width="18" height="19"/><text class="a" x="9" y="9.5"><tspan x="9" dy="-5.4">Progress /</tspan><tspan x="9" dy="2.7">Implementation</tspan><tspan x="9" dy="2.7">of Plan to</tspan><tspan x="9" dy="2.7">improve</tspan><tspan x="9" dy="2.7">outcomes</tspan></text></g>
<g transform="translate(566,509)"><rect class="pk" width="18" height="19"/><text class="b" x="9" y="9.5"><tspan x="9" dy="-1.75">Review</tspan><tspan x="9" dy="3.5">ID</tspan></text></g>
<g transform="translate(587.5,509)"><rect class="pk" width="18" height="19"/><text class="a" x="9" y="9.5"><tspan x="9" dy="-4.05">Above</tspan><tspan x="9" dy="2.7">Strengths /</tspan><tspan x="9" dy="2.7">Risks</tspan><tspan x="9" dy="2.7">Identified</tspan></text></g>
</g>
<g id="fields-cla-episodes" class="f">
<g transform="translate(437,537)"><rect class="pu" width="18" height="19"/><text class="a" x="9" y="9.5"><tspan x="9" dy="-1.35">Episode</tspan><tspan x="9" dy="2.7">ID</tspan></text></g>
<g transform="translate(458.3,537)"><rect class="w" width="18" height="19"/><text class="a" x="9" y="9.5"><tspan x="9" dy="-1.35">Child</tspan><tspan x="9" dy="2.7">Unique ID</tspan></text></g>
<g transform="translate(479.6,537)"><rect class="pu" width="18" height="19"/><text class="a" x="9" y="9.5"><tspan x="9" dy="-1.35">Episode</tspan><tspan x="9" dy="2.7">Start Date</tspan></text></g>
<g transform="translate(500.9,537)"><rect class="pu" width="18" height="19"/><text class="a" x="9" y="9.5"><tspan x="9" dy="-4.05">Reason</tspan><tspan x="9" dy="2.7">for New</tspan><tspan x="9" dy="2.7">CLA</tspan><tspan x="9" dy="2.7">Episode</tspan></text></g>
<g transform="translate(522.2,537)"><rect class="pu" width="18" height="19"/><text class="a" x="9" y="9.5"><tspan x="9" dy="-4.05">Date</tspan><tspan x="9" dy="2.7">Ceased to</tspan><tspan x="9" dy="2.7">be Looked</tspan><tspan x="9" dy="2.7">After</tspan></text></g>
<g transform="translate(543.5,537)"><rect class="pu" width="18" height="19"/><text class="a" x="9" y="9.5"><tspan x="9" dy="-4.05">Reason</tspan><tspan x="9" dy="2.7">Ceased to</tspan><tspan x="9" dy="2.7">be Looked</tspan><tspan x="9" dy="2.7">After</tspan></text></g>
<g transform="translate(564.8,537)"><rect class="pu" width="18" height="19"/><text class="a" x="9" y="9.5"><tspan x="9" dy="-1.35">Allocated</tspan><tspan x="9" dy="2.7">Team</tspan></text></g>
<g transform="translate(586.1,537)"><rect class="pu" width="18" height="19"/><text class="a" x="9" y="9.5"><tspan x="9" dy="-1.35">Allocated</tspan><tspan x="9" dy="2.7">Worker</tspan></text></g>
</g>
<g id="fields-placement" class="f">
<g transform="translate(480,562)"><rect class="pu" width="18" height="19"/><text class="a" x="9" y="9.5"><tspan x="9" dy="-1.35">Placement</tspan><tspan x="9" dy="2.7">ID</tspan></text></g>
<g transform="translate(500.9,562)"><rect class="pu" width="18" height="19"/><text class="a" x="9" y="9.5"><tspan x="9" dy="-1.35">Episode</tspan><tspan x="9" dy="2.7">ID</tspan></text></g>
<g transform="translate(521.8,562)"><rect class="pu" width="18" height="19"/><text class="a" x="9" y="9.5"><tspan x="9" dy="-1.35">Placement</tspan><tspan x="9" dy="2.7">Start Date</tspan></text></g>
<g transform="translate(542.7,562)"><rect class="pu" width="18" height="19"/><text class="a" x="9" y="9.5"><tspan x="9" dy="-1.35">Placement</tspan><tspan x="9" dy="2.7">Type</tspan></text></g>
<g transform="translate(563.6,562)"><rect class="pu" width="18" height="19"/><text class="a" x="9" y="9.5"><tspan x="9" dy="-1.35">Latest</tspan><tspan x="9" dy="2.7">Placement</tspan></text></g>
<g transform="translate(584.5,562)"><rect class="pu" width="18" height="19"/><text class="a" x="9" y="9.5"><tspan x="9" dy="-1.35">Last</tspan><tspan x="9" dy="2.7">Placement</tspan></text></g>
<g transform="translate(605.4,562)"><rect class="pu" width="18" height="19"/><text class="a" x="9" y="9.5"><tspan x="9" dy="-1.35">Placement</tspan><tspan x="9" dy="2.7">Provider</tspan></text></g>
<g transform="translate(626.3,562)"><rect class="pu" width="18" height="19"/><text class="a" x="9" y="9.5"><tspan x="9" dy="-1.35">Placement</tspan><tspan x="9" dy="2.7">Postcode</tspan></text></g>
<g transform="translate(647.2,562)"><rect class="pu" width="18" height="19"/><text class="a" x="9" y="9.5"><tspan x="9" dy="-1.35">Placement</tspan><tspan x="9" dy="2.7">End Date</tspan></text></g>
<g transform="translate(668.1,562)"><rect class="pu" width="18" height="19"/><text class="a" x="9" y="9.5"><tspan x="9" dy="-2.7">Reason for</tspan><tspan x="9" dy="2.7">Placement</tspan><tspan x="9" dy="2.7">Change</tspan></text></g>
</g>
<g id="fields-cla-reviews" class="f">
<g transform="translate(480,588)"><rect class="pu" width="18" height="19"/><text class="a" x="9" y="9.5">Review ID</text></g>
<g transform="translate(500.8,588)"><rect class="pu" width="18" height="19"/><text class="a" x="9" y="9.5"><tspan x="9" dy="-1.35">Episode</tspan><tspan x="9" dy="2.7">ID</tspan></text></g>
<g transform="translate(521.5,588)"><rect class="pu" width="18" height="19"/><text class="a" x="9" y="9.5"><tspan x="9" dy="-1.35">CLA Review</tspan><tspan x="9" dy="2.7">Due Date</tspan></text></g>
<g transform="translate(542.3,588)"><rect class="pu" width="18" height="19"/><text class="a" x="9" y="9.5"><tspan x="9" dy="-1.35">CLA Review</tspan><tspan x="9" dy="2.7">Date</tspan></text></g>
<g transform="translate(563.1,588)"><rect class="pu" width="18" height="19"/><text class="a" x="9" y="9.5"><tspan x="9" dy="-4.05">LAC</tspan><tspan x="9" dy="2.7">Involved in</tspan><tspan x="9" dy="2.7">Participating</tspan><tspan x="9" dy="2.7">Care Plan</tspan></text></g>
<g transform="translate(583.9,588)"><rect class="pu" width="18" height="19"/><text class="a" x="9" y="9.5"><tspan x="9" dy="-1.35">Participation</tspan><tspan x="9" dy="2.7">Code</tspan></text></g>
<g transform="translate(604.6,588)"><rect class="pu" width="18" height="19"/><text class="a" x="9" y="9.5"><tspan x="9" dy="-1.35">Participation</tspan><tspan x="9" dy="2.7">Mode</tspan></text></g>
<g transform="translate(625.4,588)"><rect class="pu" width="18" height="19"/><text class="a" x="9" y="9.5"><tspan x="9" dy="-2.7">Is the Child</tspan><tspan x="9" dy="2.7">Participating</tspan><tspan x="9" dy="2.7">in Review?</tspan></text></g>
<g transform="translate(646.2,588)"><rect class="pu" width="18" height="19"/><text class="a" x="9" y="9.5"><tspan x="9" dy="-1.35">Participation</tspan><tspan x="9" dy="2.7">by Advocate?</tspan></text></g>
<g transform="translate(666.9,588)"><rect class="pu" width="18" height="19"/><text class="a" x="9" y="9.5"><tspan x="9" dy="-1.35">Participation</tspan><tspan x="9" dy="2.7">Decision</tspan></text></g>
<g transform="translate(687.7,588)"><rect class="pu" width="18" height="19"/><text class="a" x="9" y="9.5"><tspan x="9" dy="-4.05">Date of Last</tspan><tspan x="9" dy="2.7">Dentist</tspan><tspan x="9" dy="2.7">Contact</tspan><tspan x="9" dy="2.7">Attendance</tspan></text></g>
<g transform="translate(708.5,588)"><rect class="pu" width="18" height="19"/><text class="a" x="9" y="9.5"><tspan x="9" dy="-2.7">Previous</tspan><tspan x="9" dy="2.7">Adoption</tspan><tspan x="9" dy="2.7">Input Care</tspan></text></g>
<g transform="translate(729.2,588)"><rect class="pu" width="18" height="19"/><text class="a" x="9" y="9.5"><tspan x="9" dy="-2.7">Personal</tspan><tspan x="9" dy="2.7">Education</tspan><tspan x="9" dy="2.7">Plan Review</tspan></text></g>
<g transform="translate(750,588)"><rect class="pu" width="18" height="19"/><text class="a" x="9" y="9.5"><tspan x="9" dy="-2.7">Personal</tspan><tspan x="9" dy="2.7">Education Plan</tspan><tspan x="9" dy="2.7">Completed</tspan></text></g>
<g transform="translate(770.8,588)"><rect class="pu" width="18" height="19"/><text class="a" x="9" y="9.5"><tspan x="9" dy="-4.05">Date of</tspan><tspan x="9" dy="2.7">Personal</tspan><tspan x="9" dy="2.7">Education</tspan><tspan x="9" dy="2.7">Plan</tspan></text></g>
<g transform="translate(791.6,588)"><rect class="pu" width="18" height="19"/><text class="a" x="9" y="9.5"><tspan x="9" dy="-4.05">Child</tspan><tspan x="9" dy="2.7">Involvement</tspan><tspan x="9" dy="2.7">Activity Not</tspan><tspan x="9" dy="2.7">Met</tspan></text></g>
<g transform="translate(812.3,588)"><rect class="pu" width="18" height="19"/><text class="a" x="9" y="9.5"><tspan x="9" dy="-4.05">Health</tspan><tspan x="9" dy="2.7">Surveillance</tspan><tspan x="9" dy="2.7">Check Up</tspan><tspan x="9" dy="2.7">to Date</tspan></text></g>
<g transform="translate(833.1,588)"><rect class="pu" width="18" height="19"/><text class="a" x="9" y="9.5"><tspan x="9" dy="-2.7">Date of Last</tspan><tspan x="9" dy="2.7">Health</tspan><tspan x="9" dy="2.7">Assessment</tspan></text></g>
<g transform="translate(853.9,588)"><rect class="pu" width="18" height="19"/><text class="a" x="9" y="9.5"><tspan x="9" dy="-2.7">Date of Last</tspan><tspan x="9" dy="2.7">Dental</tspan><tspan x="9" dy="2.7">Check</tspan></text></g>
<g transform="translate(874.6,588)"><rect class="pu" width="18" height="19"/><text class="a" x="9" y="9.5"><tspan x="9" dy="-1.35">Immunisations</tspan><tspan x="9" dy="2.7">Up to Date</tspan></text></g>
<g transform="translate(895.4,588)"><rect class="pu" width="18" height="19"/><text class="a" x="9" y="9.5"><tspan x="9" dy="-4.05">Substance</tspan><tspan x="9" dy="2.7">Misuse</tspan><tspan x="9" dy="2.7">Identified as a</tspan><tspan x="9" dy="2.7">Health Concern</tspan></text></g>
<g transform="translate(523,614)"><rect class="pu" width="18" height="19"/><text class="a" x="9" y="9.5">Review ID</text></g>
<g transform="translate(544,614)"><rect class="pu" width="18" height="19"/><text class="a" x="9" y="9.5"><tspan x="9" dy="-4.05">What is the</tspan><tspan x="9" dy="2.7">Child's</tspan><tspan x="9" dy="2.7">Permanence</tspan><tspan x="9" dy="2.7">Plan?</tspan></text></g>
</g>
<g id="fields-cla-visits-sdq-missing" class="f">
<g transform="translate(480,640)"><rect class="pu" width="18" height="19"/><text class="b" x="9" y="9.5">Visit ID</text></g>
<g transform="translate(500.9,640)"><rect class="pu" width="18" height="19"/><text class="b" x="9" y="9.5"><tspan x="9" dy="-1.75">Episode</tspan><tspan x="9" dy="3.5">ID</tspan></text></g>
<g transform="translate(521.8,640)"><rect class="pu" width="18" height="19"/><text class="b" x="9" y="9.5"><tspan x="9" dy="-1.75">Date of</tspan><tspan x="9" dy="3.5">Visit</tspan></text></g>
<g transform="translate(542.7,640)"><rect class="pu" width="18" height="19"/><text class="b" x="9" y="9.5"><tspan x="9" dy="-1.75">Child</tspan><tspan x="9" dy="3.5">Seen</tspan></text></g>
<g transform="translate(563.6,640)"><rect class="pu" width="18" height="19"/><text class="b" x="9" y="9.5"><tspan x="9" dy="-3.5">Child</tspan><tspan x="9" dy="3.5">Seen</tspan><tspan x="9" dy="3.5">Alone</tspan></text></g>
<g transform="translate(480,666)"><rect class="pu" width="18" height="19"/><text class="b" x="9" y="9.5"><tspan x="9" dy="-1.75">SDQ</tspan><tspan x="9" dy="3.5">ID</tspan></text></g>
<g transform="translate(500.9,666)"><rect class="w" width="18" height="19"/><text class="a" x="9" y="9.5"><tspan x="9" dy="-1.35">Child</tspan><tspan x="9" dy="2.7">Unique ID</tspan></text></g>
<g transform="translate(521.8,666)"><rect class="pu" width="18" height="19"/><text class="a" x="9" y="9.5"><tspan x="9" dy="-2.7">SDQ</tspan><tspan x="9" dy="2.7">Completed</tspan><tspan x="9" dy="2.7">Date</tspan></text></g>
<g transform="translate(542.7,666)"><rect class="pu" width="18" height="19"/><text class="b" x="9" y="9.5"><tspan x="9" dy="-1.75">SDQ</tspan><tspan x="9" dy="3.5">Score</tspan></text></g>
<g transform="translate(480,692)"><rect class="pu" width="18" height="19"/><text class="a" x="9" y="9.5"><tspan x="9" dy="-2.7">Missing</tspan><tspan x="9" dy="2.7">Episode</tspan><tspan x="9" dy="2.7">ID</tspan></text></g>
<g transform="translate(500.9,692)"><rect class="pu" width="18" height="19"/><text class="b" x="9" y="9.5"><tspan x="9" dy="-1.75">Episode</tspan><tspan x="9" dy="3.5">ID</tspan></text></g>
<g transform="translate(521.8,692)"><rect class="pu" width="18" height="19"/><text class="a" x="9" y="9.5"><tspan x="9" dy="-2.7">Missing</tspan><tspan x="9" dy="2.7">Episode</tspan><tspan x="9" dy="2.7">Start</tspan></text></g>
<g transform="translate(542.7,692)"><rect class="pu" width="18" height="19"/><text class="a" x="9" y="9.5"><tspan x="9" dy="-4.05">Episode</tspan><tspan x="9" dy="2.7">Type</tspan><tspan x="9" dy="2.7">(Missing /</tspan><tspan x="9" dy="2.7">Absent)</tspan></text></g>
<g transform="translate(563.6,692)"><rect class="pu" width="18" height="19"/><text class="a" x="9" y="9.5"><tspan x="9" dy="-2.7">Missing</tspan><tspan x="9" dy="2.7">Episode</tspan><tspan x="9" dy="2.7">End</tspan></text></g>
<g transform="translate(584.5,692)"><rect class="pu" width="18" height="19"/><text class="a" x="9" y="9.5"><tspan x="9" dy="-1.35">RHI</tspan><tspan x="9" dy="2.7">Offered</tspan></text></g>
<g transform="translate(605.4,692)"><rect class="pu" width="18" height="19"/><text class="a" x="9" y="9.5"><tspan x="9" dy="-1.35">RHI</tspan><tspan x="9" dy="2.7">Accepted</tspan></text></g>
</g>
<g id="fields-care-leavers" class="f">
<g transform="translate(438,719)"><rect class="pu" width="18" height="19"/><text class="a" x="9" y="9.5"><tspan x="9" dy="-2.7">Care</tspan><tspan x="9" dy="2.7">Leaver</tspan><tspan x="9" dy="2.7">Episode ID</tspan></text></g>
<g transform="translate(458.9,719)"><rect class="w" width="18" height="19"/><text class="a" x="9" y="9.5"><tspan x="9" dy="-1.35">Child</tspan><tspan x="9" dy="2.7">Unique ID</tspan></text></g>
<g transform="translate(479.8,719)"><rect class="pu" width="18" height="19"/><text class="a" x="9" y="9.5"><tspan x="9" dy="-2.7">Eligibility</tspan><tspan x="9" dy="2.7">Status /</tspan><tspan x="9" dy="2.7">Category</tspan></text></g>
<g transform="translate(500.7,719)"><rect class="pu" width="18" height="19"/><text class="a" x="9" y="9.5"><tspan x="9" dy="-1.35">In Touch</tspan><tspan x="9" dy="2.7">Category</tspan></text></g>
<g transform="translate(521.6,719)"><rect class="pu" width="18" height="19"/><text class="a" x="9" y="9.5"><tspan x="9" dy="-2.7">Latest</tspan><tspan x="9" dy="2.7">Date of</tspan><tspan x="9" dy="2.7">Contact</tspan></text></g>
<g transform="translate(542.5,719)"><rect class="pu" width="18" height="19"/><text class="a" x="9" y="9.5"><tspan x="9" dy="-1.35">Accommo-</tspan><tspan x="9" dy="2.7">dation</tspan></text></g>
<g transform="translate(563.4,719)"><rect class="pu" width="18" height="19"/><text class="a" x="9" y="9.5"><tspan x="9" dy="-2.7">Suitability of</tspan><tspan x="9" dy="2.7">Accommo-</tspan><tspan x="9" dy="2.7">dation</tspan></text></g>
<g transform="translate(584.3,719)"><rect class="pu" width="18" height="19"/><text class="a" x="9" y="9.5"><tspan x="9" dy="-1.35">Activity</tspan><tspan x="9" dy="2.7">Status</tspan></text></g>
<g transform="translate(605.2,719)"><rect class="pu" width="18" height="19"/><text class="a" x="9" y="9.5"><tspan x="9" dy="-5.4">Latest</tspan><tspan x="9" dy="2.7">Pathway</tspan><tspan x="9" dy="2.7">Plan</tspan><tspan x="9" dy="2.7">Review</tspan><tspan x="9" dy="2.7">Date</tspan></text></g>
<g transform="translate(626.1,719)"><rect class="pu" width="18" height="19"/><text class="a" x="9" y="9.5"><tspan x="9" dy="-2.7">Allocated</tspan><tspan x="9" dy="2.7">Personal</tspan><tspan x="9" dy="2.7">Advisor</tspan></text></g>
<g transform="translate(647,719)"><rect class="pu" width="18" height="19"/><text class="a" x="9" y="9.5"><tspan x="9" dy="-1.35">Allocated</tspan><tspan x="9" dy="2.7">Team</tspan></text></g>
<g transform="translate(667.9,719)"><rect class="pu" width="18" height="19"/><text class="a" x="9" y="9.5"><tspan x="9" dy="-1.35">Allocated</tspan><tspan x="9" dy="2.7">Worker</tspan></text></g>
</g>
<g id="fields-permanence" class="f">
<g transform="translate(438,746)"><rect class="w" width="18" height="19"/><text class="a" x="9" y="9.5"><tspan x="9" dy="-1.35">Child</tspan><tspan x="9" dy="2.7">Unique ID</tspan></text></g>
<g transform="translate(458.9,746)"><rect class="ly" width="18" height="19"/><text class="a" x="9" y="9.5"><tspan x="9" dy="-2.7">Date of</tspan><tspan x="9" dy="2.7">ADM</tspan><tspan x="9" dy="2.7">Decision</tspan></text></g>
<g transform="translate(479.8,746)"><rect class="ly" width="18" height="19"/><text class="a" x="9" y="9.5"><tspan x="9" dy="-2.7">Date of</tspan><tspan x="9" dy="2.7">Match to</tspan><tspan x="9" dy="2.7">Adopters</tspan></text></g>
<g transform="translate(500.7,746)"><rect class="ly" width="18" height="19"/><text class="a" x="9" y="9.5"><tspan x="9" dy="-2.7">Date the</tspan><tspan x="9" dy="2.7">Interim</tspan><tspan x="9" dy="2.7">Care</tspan></text></g>
<g transform="translate(521.6,746)"><rect class="ly" width="18" height="19"/><text class="a" x="9" y="9.5"><tspan x="9" dy="-4.05">Date of</tspan><tspan x="9" dy="2.7">Placement</tspan><tspan x="9" dy="2.7">Order</tspan><tspan x="9" dy="2.7">Granted</tspan></text></g>
<g transform="translate(542.5,746)"><rect class="ly" width="18" height="19"/><text class="a" x="9" y="9.5"><tspan x="9" dy="-2.7">Date</tspan><tspan x="9" dy="2.7">Placed for</tspan><tspan x="9" dy="2.7">Adoption</tspan></text></g>
<g transform="translate(563.4,746)"><rect class="ly" width="18" height="19"/><text class="a" x="9" y="9.5"><tspan x="9" dy="-4.05">Date</tspan><tspan x="9" dy="2.7">Adoption</tspan><tspan x="9" dy="2.7">Proceedings</tspan><tspan x="9" dy="2.7">Adopted</tspan></text></g>
<g transform="translate(584.3,746)"><rect class="ly" width="18" height="19"/><text class="a" x="9" y="9.5"><tspan x="9" dy="-5.4">Date</tspan><tspan x="9" dy="2.7">Placed in</tspan><tspan x="9" dy="2.7">Foster to</tspan><tspan x="9" dy="2.7">Adopt</tspan><tspan x="9" dy="2.7">Placement</tspan></text></g>
<g transform="translate(605.2,746)"><rect class="ly" width="18" height="19"/><text class="a" x="9" y="9.5"><tspan x="9" dy="-6.75">Date of</tspan><tspan x="9" dy="2.7">Decision that</tspan><tspan x="9" dy="2.7">Child should</tspan><tspan x="9" dy="2.7">no longer be</tspan><tspan x="9" dy="2.7">placed for</tspan><tspan x="9" dy="2.7">Adoption</tspan></text></g>
<g transform="translate(626.1,746)"><rect class="ly" width="18" height="19"/><text class="a" x="9" y="9.5"><tspan x="9" dy="-6.75">Date</tspan><tspan x="9" dy="2.7">originally</tspan><tspan x="9" dy="2.7">placed with</tspan><tspan x="9" dy="2.7">foster carers</tspan><tspan x="9" dy="2.7">(FFA)</tspan><tspan x="9" dy="2.7">by foster carer</tspan></text></g>
<g transform="translate(647,746)"><rect class="ly" width="18" height="19"/><text class="a" x="9" y="9.5"><tspan x="9" dy="-4.05">Is the child</tspan><tspan x="9" dy="2.7">placed with</tspan><tspan x="9" dy="2.7">a sibling</tspan><tspan x="9" dy="2.7">group?</tspan></text></g>
<g transform="translate(667.9,746)"><rect class="ly" width="18" height="33"/><text class="a" x="9" y="16.5"><tspan x="9" dy="-12.15">Number of</tspan><tspan x="9" dy="2.7">children</tspan><tspan x="9" dy="2.7">placed or</tspan><tspan x="9" dy="2.7">planned to be</tspan><tspan x="9" dy="2.7">placed for</tspan><tspan x="9" dy="2.7">adoption</tspan><tspan x="9" dy="2.7">together as</tspan><tspan x="9" dy="2.7">sibling group</tspan><tspan x="9" dy="2.7">(inc. this</tspan><tspan x="9" dy="2.7">child)</tspan></text></g>
<g transform="translate(688.8,746)"><rect class="ly" width="18" height="31"/><text class="a" x="9" y="15.5"><tspan x="9" dy="-8.1">Number of</tspan><tspan x="9" dy="2.7">siblings</tspan><tspan x="9" dy="2.7">placed for</tspan><tspan x="9" dy="2.7">adoption</tspan><tspan x="9" dy="2.7">separately</tspan><tspan x="9" dy="2.7">from this</tspan><tspan x="9" dy="2.7">child</tspan></text></g>
<g transform="translate(709.7,746)"><rect class="ly" width="18" height="19"/><text class="a" x="9" y="9.5"><tspan x="9" dy="-4.05">Whether the</tspan><tspan x="9" dy="2.7">placement</tspan><tspan x="9" dy="2.7">(adoption</tspan><tspan x="9" dy="2.7">agency)</tspan></text></g>
<g transform="translate(730.6,746)"><rect class="ly" width="18" height="19"/><text class="a" x="9" y="9.5"><tspan x="9" dy="-4.05">Reason No</tspan><tspan x="9" dy="2.7">Longer</tspan><tspan x="9" dy="2.7">Placement</tspan><tspan x="9" dy="2.7">Adoption</tspan></text></g>
<g transform="translate(751.5,746)"><rect class="ly" width="18" height="19"/><text class="a" x="9" y="9.5"><tspan x="9" dy="-1.35">Date of</tspan><tspan x="9" dy="2.7">SGO</tspan></text></g>
<g transform="translate(772.4,746)"><rect class="ly" width="18" height="19"/><text class="a" x="9" y="9.5"><tspan x="9" dy="-1.35">Type of</tspan><tspan x="9" dy="2.7">SGO</tspan></text></g>
<g transform="translate(793.3,746)"><rect class="ly" width="18" height="19"/><text class="a" x="9" y="9.5"><tspan x="9" dy="-2.7">Status of</tspan><tspan x="9" dy="2.7">Special</tspan><tspan x="9" dy="2.7">Guardian</tspan></text></g>
<g transform="translate(814.2,746)"><rect class="ly" width="18" height="19"/><text class="a" x="9" y="9.5"><tspan x="9" dy="-2.7">Age of</tspan><tspan x="9" dy="2.7">Special</tspan><tspan x="9" dy="2.7">Guardian</tspan></text></g>
</g>
<g id="fields-send" class="f">
<g transform="translate(438,774)"><rect class="w" width="18" height="20"/><text class="d" x="9" y="10" fill="#8a8a8a">UPN</text></g>
<g transform="translate(460.5,774)"><rect class="w" width="18" height="20"/><text class="a" x="9" y="10"><tspan x="9" dy="-1.35">Child</tspan><tspan x="9" dy="2.7">Unique ID</tspan></text></g>
<g transform="translate(480,801)"><rect class="sb" width="18" height="19"/><text class="a" x="9" y="9.5"><tspan x="9" dy="-1.35">Received</tspan><tspan x="9" dy="2.7">Date</tspan></text></g>
<g transform="translate(501,801)"><rect class="sb" width="18" height="19"/><text class="b" x="9" y="9.5"><tspan x="9" dy="-3.5">Request</tspan><tspan x="9" dy="3.5">Outcome</tspan><tspan x="9" dy="3.5">Date</tspan></text></g>
<g transform="translate(522,801)"><rect class="sb" width="18" height="19"/><text class="a" x="9" y="9.5"><tspan x="9" dy="-1.35">Request</tspan><tspan x="9" dy="2.7">Outcome</tspan></text></g>
<g transform="translate(523,826)"><rect class="sb" width="18" height="19"/><text class="a" x="9" y="9.5"><tspan x="9" dy="-2.7">Assessment</tspan><tspan x="9" dy="2.7">Outcome</tspan><tspan x="9" dy="2.7">Date</tspan></text></g>
<g transform="translate(544,826)"><rect class="sb" width="18" height="19"/><text class="a" x="9" y="9.5"><tspan x="9" dy="-1.35">Assessment</tspan><tspan x="9" dy="2.7">Outcome</tspan></text></g>
<g transform="translate(565,851)"><rect class="sb" width="18" height="19"/><text class="a" x="9" y="9.5">Start Date</text></g>
<g transform="translate(586,851)"><rect class="sb" width="18" height="19"/><text class="a" x="9" y="9.5"><tspan x="9" dy="-1.35">Cease</tspan><tspan x="9" dy="2.7">Date</tspan></text></g>
<g transform="translate(607,851)"><rect class="sb" width="18" height="19"/><text class="a" x="9" y="9.5"><tspan x="9" dy="-1.35">Cease</tspan><tspan x="9" dy="2.7">Reason</tspan></text></g>
<g transform="translate(523,876)"><rect class="sb" width="18" height="19"/><text class="a" x="9" y="9.5"><tspan x="9" dy="-1.35">Last</tspan><tspan x="9" dy="2.7">Review</tspan></text></g>
<g transform="translate(565,901)"><rect class="sb" width="18" height="19"/><text class="a" x="9" y="9.5">SEN Type</text></g>
<g transform="translate(587,901)"><rect class="sb" width="18" height="19"/><text class="a" x="9" y="9.5">SEN Rank</text></g>
</g>
<g id="fields-worker" class="f">
<g transform="translate(438,931)"><rect class="rd" width="18" height="19"/><text class="a" x="9" y="9.5"><tspan x="9" dy="-4.05">Social Work</tspan><tspan x="9" dy="2.7">England</tspan><tspan x="9" dy="2.7">Registration</tspan><tspan x="9" dy="2.7">Number</tspan></text></g>
<g transform="translate(459.5,931)"><rect class="rd" width="18" height="19"/><text class="a" x="9" y="9.5"><tspan x="9" dy="-1.35">Agency</tspan><tspan x="9" dy="2.7">Worker</tspan></text></g>
<g transform="translate(481,931)"><rect class="rd" width="18" height="19"/><text class="a" x="9" y="9.5"><tspan x="9" dy="-2.7">Reason for</tspan><tspan x="9" dy="2.7">Leaving the</tspan><tspan x="9" dy="2.7">Organisation</tspan></text></g>
<g transform="translate(502.5,931)"><rect class="rd" width="18" height="19"/><text class="a" x="9" y="9.5"><tspan x="9" dy="-1.35">Number of</tspan><tspan x="9" dy="2.7">Cases Held</tspan></text></g>
<g transform="translate(524,931)"><rect class="rd" width="18" height="19"/><text class="a" x="9" y="9.5"><tspan x="9" dy="-1.35">Qualification</tspan><tspan x="9" dy="2.7">Level</tspan></text></g>
</g>

<!-- ===== Existing items unavailable ===== -->
<text x="878" y="20" font-size="8" fill="#333">Existing items unavailable in SSD</text>
<rect x="877.5" y="27.5" width="141" height="129" fill="none" stroke="#b5a58c" stroke-width="1"/>
<g id="existing-items" class="f">
<g transform="translate(883,32)" filter="url(#sh)"><rect class="or" width="17" height="17"/><text class="a" x="8.5" y="8.5"><tspan x="8.5" dy="-2.7">Primary</tspan><tspan x="8.5" dy="2.7">Need</tspan><tspan x="8.5" dy="2.7">Code</tspan></text></g>
<g transform="translate(906,32)" filter="url(#sh)"><rect class="pu" width="17" height="17"/><text class="a" x="8.5" y="8.5"><tspan x="8.5" dy="-2.7">Disability</tspan><tspan x="8.5" dy="2.7">Category</tspan><tspan x="8.5" dy="2.7">Holder</tspan></text></g>
<g transform="translate(929,32)" filter="url(#sh)"><rect class="ye" width="17" height="17"/><text class="a" x="8.5" y="8.5"><tspan x="8.5" dy="-4.05">Referral</tspan><tspan x="8.5" dy="2.7">Reason</tspan><tspan x="8.5" dy="2.7">No Primary</tspan><tspan x="8.5" dy="2.7">Need Code</tspan></text></g>
<g transform="translate(986,48)" filter="url(#sh)"><rect class="or" width="18" height="20"/><text class="a" x="9" y="10"><tspan x="9" dy="-2.7">School</tspan><tspan x="9" dy="2.7">Attendance</tspan><tspan x="9" dy="2.7">Records</tspan></text></g>
<g transform="translate(887,67)" filter="url(#sh)"><rect class="or" width="28" height="27"/><text x="14" y="13.5" font-size="3.8"><tspan x="14" dy="-4.4">Section 17/</tspan><tspan x="14" dy="4.4">37 Reports</tspan><tspan x="14" dy="4.4">Started</tspan></text></g>
<g transform="translate(939,63)" filter="url(#sh)"><rect class="pu" width="30" height="31"/><text class="a" x="15" y="15.5"><tspan x="15" dy="-6.75">Children's adult</tspan><tspan x="15" dy="2.7">after aged 18 and/or</tspan><tspan x="15" dy="2.7">NEET Placement</tspan><tspan x="15" dy="2.7">reviewed at the</tspan><tspan x="15" dy="2.7">time of becoming</tspan><tspan x="15" dy="2.7">Looked After</tspan></text></g>
<g transform="translate(959,100)" filter="url(#sh)"><rect class="pu" width="30" height="31"/><text class="a" x="15" y="15.5"><tspan x="15" dy="-4.05">Unaccompanied</tspan><tspan x="15" dy="2.7">Asylum Seeking</tspan><tspan x="15" dy="2.7">Stage Details of</tspan><tspan x="15" dy="2.7">Entrance Sought</tspan></text></g>
</g>

<text x="970" y="947" font-size="15" font-weight="700" fill="#a9adab">miro</text>
</svg>
